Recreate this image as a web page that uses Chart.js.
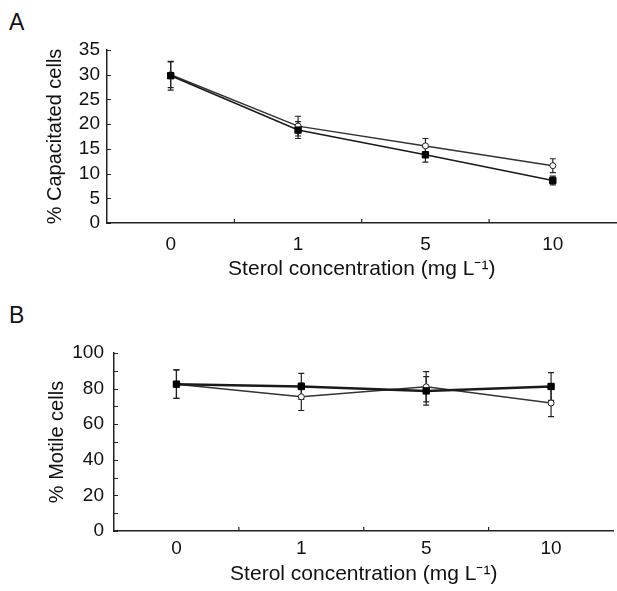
<!DOCTYPE html>
<html>
<head>
<meta charset="utf-8">
<script src="https://cdn.jsdelivr.net/npm/chart.js@4"></script>
<style>
  body { margin: 0; background: #fff; width: 617px; height: 591px; position: relative; overflow: hidden; }
  canvas { position: absolute; left: 0; }
  .letter { position: absolute; font-family: "Liberation Sans", Arial, sans-serif; font-size: 23px; color: #111; }
</style>
</head>
<body>
<div class="letter" style="left:9px;top:9px">A</div>
<div class="letter" style="left:9px;top:302px">B</div>
<canvas id="chartA" width="622" height="300" style="top:0"></canvas>
<canvas id="chartB" width="619" height="291" style="top:300px"></canvas>
<script>
const categories = ["0", "1", "5", "10"];

// panel A: % capacitated cells
const capFilled = [29.8, 18.8, 13.8, 8.6];
const capFilledErr = [2.9, 1.7, 1.5, 0.9];
const capOpen = [30.0, 19.6, 15.6, 11.6];
const capOpenErr = [2.6, 2.0, 1.5, 1.4];

// panel B: % motile cells
const motFilled = [82.5, 81.2, 78.7, 81.2];
const motFilledErr = [8.0, 7.3, 8.0, 7.8];
const motOpen = [82.5, 75.4, 81.0, 71.9];
const motOpenErr = [8.0, 7.7, 8.5, 7.7];

const xTitle = "Sterol concentration (mg L\u207B\u00B9)";
const ink = "#222";
const tickFont = { family: "'Liberation Sans', Arial, sans-serif", size: 19 };
const yTitleFont = { family: "'Liberation Sans', Arial, sans-serif", size: 20 };
const xTitleFont = { family: "'Liberation Sans', Arial, sans-serif", size: 21 };

// error bars drawn under the markers
const errorBars = {
  id: "errorBars",
  beforeDatasetsDraw(chart) {
    const ctx = chart.ctx;
    const y = chart.scales.y;
    ctx.save();
    ctx.strokeStyle = ink;
    ctx.lineWidth = 1.2;
    chart.data.datasets.forEach((ds, i) => {
      const meta = chart.getDatasetMeta(i);
      meta.data.forEach((pt, j) => {
        const v = ds.data[j], e = ds.errors[j];
        const top = y.getPixelForValue(v + e);
        const bot = y.getPixelForValue(v - e);
        ctx.beginPath();
        ctx.moveTo(pt.x, top); ctx.lineTo(pt.x, bot);
        ctx.moveTo(pt.x - 3, top); ctx.lineTo(pt.x + 3, top);
        ctx.moveTo(pt.x - 3, bot); ctx.lineTo(pt.x + 3, bot);
        ctx.stroke();
      });
    });
    ctx.restore();
  }
};

// small tick marks pointing into the plot
const innerTicks = {
  id: "innerTicks",
  afterDraw(chart) {
    const ctx = chart.ctx;
    const { x, y } = chart.scales;
    const area = chart.chartArea;
    ctx.save();
    ctx.strokeStyle = ink;
    ctx.lineWidth = 1.2;
    ctx.beginPath();
    y.ticks.forEach(t => {
      const py = Math.round(y.getPixelForValue(t.value)) + 0.5;
      ctx.moveTo(area.left, py); ctx.lineTo(area.left + 4, py);
    });
    for (let i = 0; i < categories.length - 1; i++) {
      const px = (x.getPixelForValue(i) + x.getPixelForValue(i + 1)) / 2;
      ctx.moveTo(px, area.bottom); ctx.lineTo(px, area.bottom - 4);
    }
    ctx.stroke();
    ctx.restore();
  }
};

function makePanel(id, opts) {
  const ctx = document.getElementById(id).getContext("2d");
  return new Chart(ctx, {
    type: "line",
    data: {
      labels: categories,
      datasets: [
        {
          data: opts.filled,
          errors: opts.filledErr,
          borderColor: "#1a1a1a",
          borderWidth: opts.filledWidth,
          pointStyle: "rect",
          pointRadius: 4.5,
          pointBackgroundColor: "#000",
          pointBorderColor: "#000",
          pointBorderWidth: 1
        },
        {
          data: opts.open,
          errors: opts.openErr,
          borderColor: "#333",
          borderWidth: 1.5,
          pointStyle: "circle",
          pointRadius: 3,
          pointBackgroundColor: "#fff",
          pointBorderColor: ink,
          pointBorderWidth: 1
        }
      ]
    },
    options: {
      responsive: false,
      animation: false,
      layout: { padding: { left: opts.padLeft, top: opts.padTop, right: 0, bottom: opts.padBottom } },
      plugins: { legend: { display: false }, tooltip: { enabled: false } },
      scales: {
        x: {
          type: "category",
          offset: true,
          grid: { display: false, drawTicks: false },
          border: { display: true, color: ink, width: 1.5 },
          ticks: { color: "#111", font: tickFont, padding: opts.xPad, maxRotation: 0 },
          title: { display: true, text: xTitle, color: "#111", font: xTitleFont, padding: 0 },
          afterFit: s => { s.height = opts.xHeight; }
        },
        y: {
          min: 0,
          max: opts.max,
          grid: { display: false, drawTicks: false },
          border: { display: true, color: ink, width: 1.5 },
          ticks: {
            stepSize: opts.step,
            autoSkip: false,
            color: "#111",
            font: tickFont,
            padding: opts.yPad,
            callback: v => (v % opts.labelEvery === 0 ? v : "")
          },
          title: { display: true, text: opts.yTitle, color: "#111", font: yTitleFont, padding: 0 },
          afterFit: s => { s.width = opts.yWidth; }
        }
      }
    },
    plugins: [errorBars, innerTicks]
  });
}

makePanel("chartA", {
  filled: capFilled, filledErr: capFilledErr, open: capOpen, openErr: capOpenErr,
  filledWidth: 1.6, max: 35, step: 5, labelEvery: 5,
  yTitle: "% Capacitated cells",
  padLeft: 43, padTop: 50, padBottom: 18,
  yWidth: 64, xHeight: 59, xPad: 10, yPad: 7
});

makePanel("chartB", {
  filled: motFilled, filledErr: motFilledErr, open: motOpen, openErr: motOpenErr,
  filledWidth: 2.5, max: 100, step: 10, labelEvery: 20,
  yTitle: "% Motile cells",
  padLeft: 45, padTop: 53, padBottom: 4,
  yWidth: 69, xHeight: 56, xPad: 6, yPad: 10
});
</script>
</body>
</html>
